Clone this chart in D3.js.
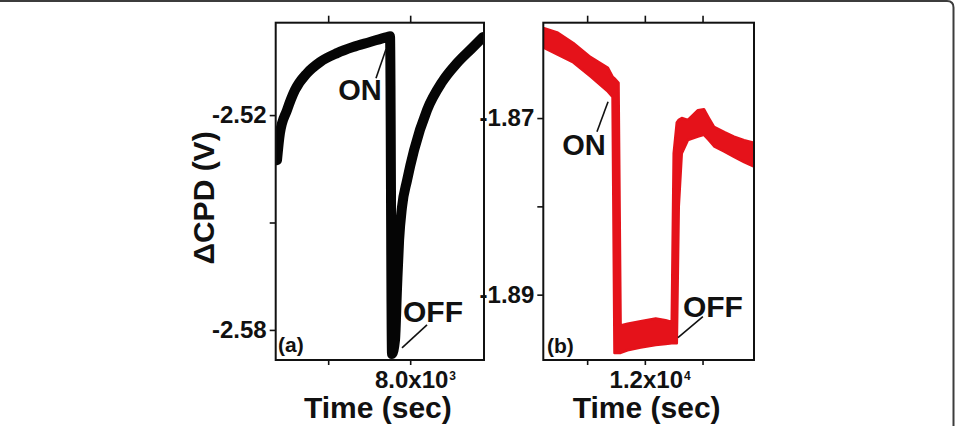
<!DOCTYPE html>
<html>
<head>
<meta charset="utf-8">
<script src="https://cdn.jsdelivr.net/npm/d3@7"></script>
<style>
  body { margin: 0; background: #fff; }
  svg { display: block; font-family: "Liberation Sans", Arial, sans-serif; font-weight: bold; }
</style>
</head>
<body>
<svg id="chart" width="955" height="426"></svg>
<script>
// ---- panel (a) : black trace, time (s) vs dCPD (V)
var timeA = [6376, 6412, 6498, 6595, 6742, 6900, 7108, 7303, 7510, 7717, 7754,
             7778, 7815, 7840, 7865, 7900, 7962, 8047, 8205, 8388, 8571, 8754, 8888];
var cpdA  = [-2.5326, -2.5250, -2.5186, -2.5130, -2.5083, -2.5052, -2.5027, -2.5010, -2.4996, -2.4982, -2.4980,
             -2.5867, -2.5828, -2.5680, -2.5549, -2.5457, -2.5382, -2.5298, -2.5186, -2.5108, -2.5055, -2.5013, -2.4982];

// ---- panel (b) : red trace, noisy band -> read as top and bottom edge
var timeB   = [11120, 11240, 11380, 11530, 11680, 11720, 11737, 11772, 11790, 11850, 11964, 12094, 12180, 12233,
               12250, 12277, 12294, 12320, 12373, 12460, 12512, 12555, 12600, 12690, 12773, 12860, 12946];
var cpdBtop = [-1.8598, -1.8603, -1.8615, -1.8631, -1.8643, -1.8653, -1.8655, -1.8660, -1.8935, -1.8933, -1.8930, -1.8927, -1.8929, -1.8931,
               -1.8740, -1.8705, -1.8702, -1.8700, -1.8702, -1.8691, -1.8690, -1.8700, -1.8710, -1.8716, -1.8721, -1.8725, -1.8728];
var cpdBbot = [-1.8620, -1.8628, -1.8637, -1.8653, -1.8670, -1.8676, -1.8966, -1.8966, -1.8966, -1.8963, -1.8960, -1.8957, -1.8956, -1.8955,
               -1.8955, -1.8955, -1.8800, -1.8740, -1.8725, -1.8721, -1.8719, -1.8725, -1.8732, -1.8738, -1.8744, -1.8750, -1.8755];

// ---- ticks
var xTicksA = [7000, 8000];
var xLabA   = [null, ["8.0x10", "3"]];
var yTicksA = [-2.52, -2.55, -2.58];
var yLabA   = ["-2.52", "", "-2.58"];
var xTicksB = [11500, 12000, 12500];
var xLabB   = [null, ["1.2x10", "4"], null];
var yTicksB = [-1.87, -1.88, -1.89];
var yLabB   = ["-1.87", "", "-1.89"];

var svg = d3.select("#chart");

// page frame (rounded card edge)
svg.append("path")
  .attr("d", "M0,1 H947 Q953.5,1 953.5,7.5 V426")
  .attr("fill", "none").attr("stroke", "#3c3c3c").attr("stroke-width", 2);

function panel(opt) {
  var g = svg.append("g");
  var x = d3.scaleLinear().domain(opt.xdom).range([opt.left, opt.right]);
  var y = d3.scaleLinear().domain(opt.ydom).range([opt.bottom, opt.top]);

  g.append("clipPath").attr("id", opt.id + "clip")
    .append("rect").attr("x", opt.left).attr("y", opt.top)
    .attr("width", opt.right - opt.left).attr("height", opt.bottom - opt.top);

  var plot = g.append("g").attr("clip-path", "url(#" + opt.id + "clip)");
  opt.draw(plot, x, y);

  // axes
  var fsz = 24;
  var bx = g.append("g").attr("transform", "translate(0," + opt.bottom + ")")
    .call(d3.axisBottom(x).tickValues(opt.xt).tickSize(5).tickPadding(6).tickFormat(function () { return ""; }));
  bx.selectAll(".tick text").each(function (d, i) {
    var lab = opt.xl[i];
    if (!lab) return;
    var t = d3.select(this).attr("font-size", fsz).attr("dx", "0.2em");
    t.append("tspan").text(lab[0]);
    t.append("tspan").text(lab[1]).attr("font-size", 12).attr("dy", "-0.7em").attr("dx", "1");
  });
  g.append("g").attr("transform", "translate(0," + opt.top + ")")
    .call(d3.axisTop(x).tickValues(opt.xt).tickSize(7).tickFormat(function () { return ""; }));
  g.append("g").attr("transform", "translate(" + opt.left + ",0)")
    .call(d3.axisLeft(y).tickValues(opt.yt).tickSize(6).tickPadding(3)
      .tickFormat(function (d, i) { return opt.yl[i]; }))
    .selectAll("text").attr("font-size", fsz);

  g.selectAll(".domain").remove();
  g.selectAll(".tick line").attr("stroke", "#111").attr("stroke-width", 1.6);
  g.selectAll(".tick text").attr("fill", "#111").attr("font-family", "Liberation Sans, Arial, sans-serif").attr("font-weight", "bold");

  g.append("rect").attr("x", opt.left).attr("y", opt.top)
    .attr("width", opt.right - opt.left).attr("height", opt.bottom - opt.top)
    .attr("fill", "none").attr("stroke", "#111").attr("stroke-width", 2);

  // x title
  g.append("text").attr("x", (opt.left + opt.right) / 2 - 2).attr("y", 418)
    .attr("text-anchor", "middle").attr("font-size", 30).attr("fill", "#111").text("Time (sec)");

  // annotations
  opt.notes.forEach(function (n) {
    if (n.from) {
      g.append("line")
        .attr("x1", x(n.from[0])).attr("y1", y(n.from[1]))
        .attr("x2", x(n.to[0])).attr("y2", y(n.to[1]))
        .attr("stroke", "#111").attr("stroke-width", 1.6);
    }
    g.append("text").attr("x", x(n.at[0])).attr("y", y(n.at[1]))
      .attr("text-anchor", n.anchor).attr("font-size", n.size).attr("fill", "#111").text(n.text);
  });
  return g;
}

panel({
  id: "a", left: 275.7, right: 484, top: 22.7, bottom: 360,
  xdom: [6360, 8900], ydom: [-2.5884, -2.4942],
  xt: xTicksA, xl: xLabA, yt: yTicksA, yl: yLabA,
  draw: function (p, x, y) {
    p.append("path")
      .datum(timeA.map(function (t, i) { return [t, cpdA[i]]; }))
      .attr("d", d3.line().x(function (d) { return x(d[0]); }).y(function (d) { return y(d[1]); }).curve(d3.curveMonotoneX))
      .attr("fill", "none").attr("stroke", "#050505").attr("stroke-width", 10)
      .attr("stroke-linejoin", "round").attr("stroke-linecap", "round");
  },
  notes: [
    { text: "ON", at: [7388, -2.5158], anchor: "middle", size: 29, from: [7583, -2.5097], to: [7705, -2.5016] },
    { text: "OFF", at: [7912, -2.5778], anchor: "start", size: 30, from: [7900, -2.5850], to: [8205, -2.5786] },
    { text: "(a)", at: [6388, -2.5861], anchor: "start", size: 21 }
  ]
});

panel({
  id: "b", left: 543.3, right: 754, top: 22.7, bottom: 360,
  xdom: [11120, 12946], ydom: [-1.8974, -1.8592],
  xt: xTicksB, xl: xLabB, yt: yTicksB, yl: yLabB,
  draw: function (p, x, y) {
    var band = timeB.map(function (t, i) { return [t, cpdBbot[i], cpdBtop[i]]; });
    p.append("path").datum(band)
      .attr("d", d3.area().x(function (d) { return x(d[0]); })
        .y0(function (d) { return y(d[1]); }).y1(function (d) { return y(d[2]); }))
      .attr("fill", "#e5121a").attr("stroke", "#e5121a").attr("stroke-width", 2.5)
      .attr("stroke-linejoin", "round");
  },
  notes: [
    { text: "ON", at: [11473, -1.87415], anchor: "middle", size: 29, from: [11585, -1.87155], to: [11681, -1.86815] },
    { text: "OFF", at: [12330, -1.89249], anchor: "start", size: 30, from: [12287, -1.89487], to: [12503, -1.89249] },
    { text: "(b)", at: [11152, -1.89657], anchor: "start", size: 21 }
  ]
});

// y title
svg.append("text")
  .attr("transform", "translate(214,198) rotate(-90)")
  .attr("text-anchor", "middle").attr("font-size", 30).attr("fill", "#111")
  .text("\u0394CPD (V)");
</script>
</body>
</html>
